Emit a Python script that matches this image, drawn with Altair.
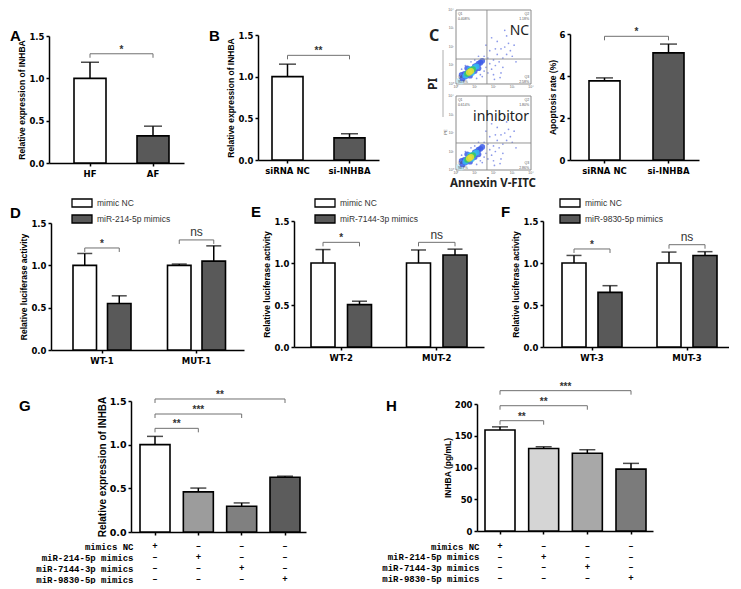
import altair as alt
import pandas as pd

# ------------------------------------------------------------------ data
A_CATS = ["HF", "AF"]
A_MEAN = [1.0, 0.32]
A_ERR = [0.19, 0.115]
A_BRACKETS = [("HF", "AF", 1.29, "*")]

B_CATS = ["siRNA NC", "si-INHBA"]
B_MEAN = [1.0, 0.265]
B_ERR = [0.15, 0.05]
B_BRACKETS = [("siRNA NC", "si-INHBA", 1.256, "**")]

C_CATS = ["siRNA NC", "si-INHBA"]
C_MEAN = [3.77, 5.1]
C_ERR = [0.14, 0.42]
C_BRACKETS = [("siRNA NC", "si-INHBA", 5.89, "*")]

FLOW_SAMPLES = ["NC", "inhibitor"]
FLOW_GATE_X = [1.65, 1.65]
FLOW_GATE_Y = [1.35, 1.46]
FLOW_Q1 = ["Q1\n0.408%", "Q1\n0.614%"]
FLOW_Q2 = ["Q2\n1.18%", "Q2\n1.80%"]
FLOW_Q3 = ["Q3\n2.58%", "Q3\n2.86%"]
FLOW_Q4 = ["Q4\n95.8%", "Q4\n94.7%"]
FLOW_DECADES = ["10\u2070", "10\u00b9", "10\u00b2", "10\u00b3", "10\u2074"]
FLOW_SPARSE_X = [1.3, 1.5, 1.6, 1.7, 1.8, 1.9, 2.0, 2.1, 2.2, 2.3, 2.4, 2.5, 2.6, 2.7,
                 2.8, 2.9, 3.0, 2.2, 1.8, 1.5, 1.4, 1.2, 1.0, 0.8, 0.5, 0.3, 2.0, 2.5,
                 3.1, 2.7, 1.6, 2.4, 3.2, 1.1, 0.2, 0.4, 1.9, 2.6, 2.1, 1.7, 2.35, 2.05]
FLOW_SPARSE_Y = [0.5, 0.7, 0.9, 0.6, 1.1, 0.8, 1.3, 1.0, 1.6, 1.2, 1.9, 1.4, 2.0, 1.6,
                 2.2, 1.8, 1.5, 2.3, 1.8, 1.5, 0.4, 1.5, 1.3, 1.2, 1.0, 0.8, 0.5, 0.9,
                 2.1, 2.6, 2.1, 0.6, 1.2, 0.3, 0.3, 0.15, 2.5, 2.9, 1.9, 1.4, 0.35, 0.25]
FLOW_CORE_X = [0.35, 0.5, 0.6, 0.7, 0.8, 0.9, 1.0, 1.1, 1.2, 1.3, 0.45, 0.75, 1.0, 0.6,
               1.2, 0.3, 1.4, 0.15, 0.28,
               0.5, 0.6, 0.7, 0.8, 0.9, 1.0, 1.1, 0.75, 0.85,
               0.6, 0.7, 0.8, 0.9, 0.75,
               0.7, 0.8]
FLOW_CORE_Y = [0.3, 0.4, 0.55, 0.6, 0.75, 0.8, 0.95, 1.0, 1.1, 1.15, 0.55, 0.45, 0.7, 0.85,
               0.85, 0.5, 1.25, 0.18, 0.12,
               0.45, 0.55, 0.65, 0.7, 0.8, 0.9, 0.95, 0.8, 0.6,
               0.55, 0.62, 0.72, 0.8, 0.7,
               0.62, 0.7]
FLOW_CORE_LEVEL = ["blue"] * 17 + ["pale"] * 2 + ["cyan"] * 9 + ["green"] * 5 + ["yellow"] * 2

D_GROUPS = ["WT-1", "MUT-1"]
D_SERIES = ["mimic NC", "miR-214-5p mimics"]
D_NC = [1.0, 1.0]
D_NC_ERR = [0.14, 0.015]
D_MIM = [0.55, 1.05]
D_MIM_ERR = [0.09, 0.18]
D_BRACKETS = [("WT-1", 1.205, "*"), ("MUT-1", 1.30, "ns")]

E_GROUPS = ["WT-2", "MUT-2"]
E_SERIES = ["mimic NC", "miR-7144-3p mimics"]
E_NC = [1.0, 1.0]
E_NC_ERR = [0.16, 0.155]
E_MIM = [0.505, 1.095]
E_MIM_ERR = [0.04, 0.07]
E_BRACKETS = [("WT-2", 1.246, "*"), ("MUT-2", 1.246, "ns")]

F_GROUPS = ["WT-3", "MUT-3"]
F_SERIES = ["mimic NC", "miR-9830-5p mimics"]
F_NC = [1.0, 1.0]
F_NC_ERR = [0.09, 0.13]
F_MIM = [0.65, 1.09]
F_MIM_ERR = [0.08, 0.045]
F_BRACKETS = [("WT-3", 1.167, "*"), ("MUT-3", 1.218, "ns")]

G_CATS = ["mimics NC", "miR-214-5p mimics", "miR-7144-3p mimics", "miR-9830-5p mimics"]
G_MEAN = [1.0, 0.46, 0.295, 0.627]
G_ERR = [0.095, 0.043, 0.038, 0.012]
G_BRACKETS = [("mimics NC", "miR-214-5p mimics", 1.187, "**"),
              ("mimics NC", "miR-7144-3p mimics", 1.351, "***"),
              ("mimics NC", "miR-9830-5p mimics", 1.523, "**")]

H_CATS = ["mimics NC", "miR-214-5p mimics", "miR-7144-3p mimics", "miR-9830-5p mimics"]
H_MEAN = [159, 130, 122.5, 97.5]
H_ERR = [5, 2.5, 5.5, 9]
H_BRACKETS = [("mimics NC", "miR-214-5p mimics", 173.7, "**"),
              ("mimics NC", "miR-7144-3p mimics", 197.3, "**"),
              ("mimics NC", "miR-9830-5p mimics", 221.0, "***")]

TABLE_ROWS = ["mimics NC", "miR-214-5p mimics", "miR-7144-3p mimics", "miR-9830-5p mimics"]

# ------------------------------------------------------------------ styles / layout
DARK = "#595959"
A_FILL = ["white", DARK]
G_FILL = ["white", "#9c9c9c", "#808080", "#5c5c5c"]
H_FILL = ["white", "#d5d5d5", "#a8a8a8", "#7b7b7b"]
BRACKET_COLOR = "#707070"
SANS = "Liberation Sans"
LABEL_FONT = "DejaVu Sans"
MONO = "Liberation Mono"

Y15 = dict(domain=[0, 1.5], values=[0, 0.5, 1.0, 1.5], format=".1f")
Y6 = dict(domain=[0, 6], values=[0, 2, 4, 6], format="d")
Y200 = dict(domain=[0, 200], values=[0, 50, 100, 150, 200], format="d")

GEO_A = dict(VW=209, VH=153, W=135, YT=26, lefts=[25, 88], bw=32, letter=("A", -39, 26))
GEO_B = dict(VW=198, VH=150, W=121, YT=25, lefts=[14, 76], bw=31, letter=("B", -49, 26))
GEO_C = dict(VW=129, VH=150, W=129, YT=24, lefts=[19, 83], bw=31, letter=None)
GEO_FLOW = dict(VW=114, VH=160, W=75, ymax=8.65, offsets=[4.65, 0.0])
GEO_D = dict(VW=243, VH=155, W=193, YT=28, nc=[22, 116], mim=[56, 151], bw=23.5, lx=20,
             letter=("D", -41, 18))
GEO_E = dict(VW=249, VH=152, W=190, YT=26, nc=[17, 113], mim=[54, 149], bw=24, lx=20,
             letter=("E", -43, 17))
GEO_F = dict(VW=186, VH=152, W=186, YT=26, nc=[19, 114], mim=[55, 150], bw=24, lx=16,
             letter=("F", -42, 17))
GEO_G = dict(VW=346, VH=133, W=175, YT=2, lefts=[9, 52, 96, 139], bw=30, table=[147, 180],
             letter=("G", -112, 7))
GEO_H = dict(VW=176, VH=132, W=176, YT=5, lefts=[8, 52, 95, 139], bw=30, table=[147, 179],
             letter=("H", -91, 7))
ROW_LEFT = [40, 42, 122]   # spacer widths: page x of first plot minus page margin

ONE = pd.DataFrame({"k": [0]})


def band_params(W, n, first_left, step, bw):
    pi = 1.0 - bw / step
    po = max(0.0, (W / step - n + pi) / 2.0)
    free = W - step * (n - pi)
    align = min(1.0, max(0.0, first_left / free)) if free > 0 else 0.5
    return dict(paddingInner=pi, paddingOuter=po, align=align)


def letter_layer(spec):
    txt, lx, ly = spec
    return alt.Chart(ONE).mark_text(text=txt, font=SANS, fontSize=15, fontWeight="bold",
                                    align="left", baseline="middle", color="black").encode(
        x=alt.value(lx), y=alt.value(ly))


def anchor_layer(y0, y1):
    return alt.Chart(ONE).mark_rule(strokeOpacity=0, strokeWidth=0.1, color="white").encode(
        x=alt.value(0), x2=alt.value(0), y=alt.value(y0), y2=alt.value(y1))


def spacer(w):
    return alt.Chart(ONE).mark_point(opacity=0, size=1).encode(
        x=alt.value(0), y=alt.value(0)).properties(width=w, height=1)


def star_text(label):
    if label == "ns":
        return dict(font=SANS, fontSize=12, fontWeight="normal", dy=-3.5)
    return dict(font=SANS, fontSize=10, fontWeight="bold", dy=-1)


def simple_panel(cats, means, errs, fills, brackets, geo, ycfg, ytitle, lsize=8.5, tsize=8.5,
                 xlabels=True, table=False, anchor=None):
    W, VW, VH, YT = geo["W"], geo["VW"], geo["VH"], geo["YT"]
    lefts, bw = geo["lefts"], geo["bw"]
    n = len(cats)
    step = (lefts[-1] - lefts[0]) / (n - 1)
    xs = alt.Scale(domain=cats, range=[0, W], **band_params(W, n, lefts[0], step, bw))
    ys = alt.Scale(domain=ycfg["domain"], range=[VH, YT], nice=False, zero=True)
    pxu = (VH - YT) / (ycfg["domain"][1] - ycfg["domain"][0])
    df = pd.DataFrame({"cat": cats, "mean": means,
                       "top": [m + e for m, e in zip(means, errs)], "fill": fills})
    xaxis = alt.Axis(title=None, labelAngle=0, labels=xlabels, labelFontSize=lsize,
                     labelPadding=3, ticks=True)
    yaxis = alt.Axis(values=ycfg["values"], format=ycfg["format"], title=ytitle,
                     labelFontSize=lsize, titleFontSize=tsize, titlePadding=2)
    x = alt.X("cat:N", scale=xs, axis=xaxis)
    Y = lambda f: alt.Y(f, scale=ys, axis=yaxis)
    bars = alt.Chart(df).mark_bar(stroke="black", strokeWidth=1.6).encode(
        x=x, y=Y("mean:Q"), fill=alt.Fill("fill:N", scale=None))
    err = alt.Chart(df).mark_rule(color="black", strokeWidth=1.5).encode(
        x=x, y=Y("mean:Q"), y2="top:Q")
    caps = alt.Chart(df).mark_tick(color="black", thickness=1.5, size=round(bw * 0.55)).encode(
        x=x, y=Y("top:Q"))
    rows = []
    for i, (c1, c2, yb, lab) in enumerate(brackets):
        drop = 4.0 / pxu
        rows += [dict(bid=i, o=0, cat=c1, y=yb - drop), dict(bid=i, o=1, cat=c1, y=yb),
                 dict(bid=i, o=2, cat=c2, y=yb), dict(bid=i, o=3, cat=c2, y=yb - drop)]
    br = alt.Chart(pd.DataFrame(rows)).mark_line(color=BRACKET_COLOR, strokeWidth=1).encode(
        x=x, y=Y("y:Q"), detail="bid:N", order="o:Q")
    layers = [bars, err, caps, br]
    for c1, c2, yb, lab in brackets:
        k = cats.index(c2) - cats.index(c1)
        sdf = pd.DataFrame({"cat": [c1], "y": [yb], "t": [lab]})
        layers.append(alt.Chart(sdf).mark_text(color="#333", baseline="alphabetic",
                                               dx=k * step / 2, **star_text(lab)).encode(
            x=x, y=Y("y:Q"), text="t:N"))
    if geo.get("letter"):
        layers.append(letter_layer(geo["letter"]))
    if anchor:
        layers.append(anchor_layer(*anchor))
    main = alt.layer(*layers)
    if table:
        tdf = pd.DataFrame([dict(rname=r, cat=c, sym="+" if r == c else "\u2013")
                            for r in TABLE_ROWS for c in cats])
        tab = alt.Chart(tdf).mark_text(font=MONO, fontWeight="bold", fontSize=9,
                                       color="black").encode(
            x=x,
            y=alt.Y("rname:N", scale=alt.Scale(domain=TABLE_ROWS, range=geo["table"], padding=0),
                    axis=alt.Axis(orient="left", title=None, domain=False, ticks=False,
                                  labelFont=MONO, labelFontWeight="bold", labelFontSize=9,
                                  labelPadding=-2, labelColor="black")),
            text="sym:N")
        main = alt.layer(main, tab).resolve_scale(y="independent")
    return main.properties(width=VW, height=VH)


def grouped_panel(groups, series, nc, nc_err, mim, mim_err, brackets, geo, ytitle,
                  anchor=None, lsize=8.5, tsize=8.5):
    W, VW, VH, YT = geo["W"], geo["VW"], geo["VH"], geo["YT"]
    ncl, mil, bw = geo["nc"], geo["mim"], geo["bw"]
    gs = ((ncl[1] - ncl[0]) + (mil[1] - mil[0])) / 2.0
    osz = ((mil[0] - ncl[0]) + (mil[1] - ncl[1])) / 2.0
    m = 5.0
    B = osz + bw + 2 * m
    xs = alt.Scale(domain=groups, range=[0, W], **band_params(W, 2, ncl[0] - m, gs, B))
    xo = alt.Scale(domain=series, **band_params(B, 2, m, osz, bw))
    ys = alt.Scale(domain=Y15["domain"], range=[VH, YT], nice=False, zero=True)
    pxu = (VH - YT) / 1.5
    rows = []
    for gi, g in enumerate(groups):
        rows.append(dict(grp=g, ser=series[0], mean=nc[gi], top=nc[gi] + nc_err[gi]))
        rows.append(dict(grp=g, ser=series[1], mean=mim[gi], top=mim[gi] + mim_err[gi]))
    df = pd.DataFrame(rows)
    xaxis = alt.Axis(title=None, labelAngle=0, labelFontSize=lsize, labelPadding=3)
    yaxis = alt.Axis(values=Y15["values"], format=Y15["format"], title=ytitle,
                     labelFontSize=lsize, titleFontSize=tsize, titlePadding=2)
    x = alt.X("grp:N", scale=xs, axis=xaxis)
    xoff = alt.XOffset("ser:N", scale=xo)
    Y = lambda f: alt.Y(f, scale=ys, axis=yaxis)
    legend = alt.Legend(orient="none", legendX=geo["lx"] + 4, legendY=1, title=None,
                        symbolType="M-1.667,-0.667H1.667V0.667H-1.667Z", symbolSize=144,
                        symbolStrokeColor="black", symbolStrokeWidth=1.3,
                        labelFont=SANS, labelFontSize=8.5, labelColor="#333",
                        labelOffset=8, rowPadding=2, padding=0)
    bars = alt.Chart(df).mark_bar(stroke="black", strokeWidth=1.6).encode(
        x=x, xOffset=xoff, y=Y("mean:Q"),
        fill=alt.Fill("ser:N", scale=alt.Scale(domain=series, range=["white", DARK]),
                      legend=legend))
    err = alt.Chart(df).mark_rule(color="black", strokeWidth=1.5).encode(
        x=x, xOffset=xoff, y=Y("mean:Q"), y2="top:Q")
    caps = alt.Chart(df).mark_tick(color="black", thickness=1.5, size=round(bw * 0.62)).encode(
        x=x, xOffset=xoff, y=Y("top:Q"))
    brows = []
    for i, (g, yb, lab) in enumerate(brackets):
        drop = 4.0 / pxu
        brows += [dict(bid=i, o=0, grp=g, ser=series[0], y=yb - drop),
                  dict(bid=i, o=1, grp=g, ser=series[0], y=yb),
                  dict(bid=i, o=2, grp=g, ser=series[1], y=yb),
                  dict(bid=i, o=3, grp=g, ser=series[1], y=yb - drop)]
    br = alt.Chart(pd.DataFrame(brows)).mark_line(color=BRACKET_COLOR, strokeWidth=1).encode(
        x=x, xOffset=xoff, y=Y("y:Q"), detail="bid:N", order="o:Q")
    layers = [bars, err, caps, br]
    for g, yb, lab in brackets:
        sdf = pd.DataFrame({"grp": [g], "y": [yb], "t": [lab]})
        layers.append(alt.Chart(sdf).mark_text(color="#333", baseline="alphabetic",
                                               **star_text(lab)).encode(
            x=x, y=Y("y:Q"), text="t:N"))
    layers.append(letter_layer(geo["letter"]))
    if anchor:
        layers.append(anchor_layer(*anchor))
    return alt.layer(*layers).properties(width=VW, height=VH)


def flow_panel():
    VW, VH, W, ymax = GEO_FLOW["VW"], GEO_FLOW["VH"], GEO_FLOW["W"], GEO_FLOW["ymax"]
    offs = GEO_FLOW["offsets"]
    xs = alt.Scale(domain=[0, 4], range=[0, W], nice=False, zero=False)
    ys = alt.Scale(domain=[0, ymax], range=[VH, 0], nice=False, zero=False)
    X = lambda f: alt.X(f, scale=xs, axis=None)
    Y = lambda f: alt.Y(f, scale=ys, axis=None)
    boxes = pd.DataFrame({"s": FLOW_SAMPLES, "x0": [0, 0], "x1": [4, 4], "y0": offs,
                          "y1": [o + 4 for o in offs], "gx": FLOW_GATE_X,
                          "gy": [o + g for o, g in zip(offs, FLOW_GATE_Y)],
                          "lx": [3.9, 3.9], "ly": [o + 2.85 for o in offs]})
    frame = alt.Chart(boxes).mark_rect(fillOpacity=0, stroke="#8a8a8a", strokeWidth=1).encode(
        x=X("x0:Q"), x2="x1:Q", y=Y("y0:Q"), y2="y1:Q")
    vg = alt.Chart(boxes).mark_rule(color="#8a8a8a", strokeWidth=0.9).encode(
        x=X("gx:Q"), y=Y("y0:Q"), y2="y1:Q")
    hg = alt.Chart(boxes).mark_rule(color="#8a8a8a", strokeWidth=0.9).encode(
        x=X("x0:Q"), x2="x1:Q", y=Y("gy:Q"))
    sp = pd.DataFrame([dict(x=x, y=y + o) for o in offs
                       for x, y in zip(FLOW_SPARSE_X, FLOW_SPARSE_Y)])
    sparse = alt.Chart(sp).mark_circle(size=3, color="#5b6fe0", opacity=0.7).encode(
        x=X("x:Q"), y=Y("y:Q"))
    lv_order = {"pale": 0, "blue": 1, "cyan": 2, "green": 3, "yellow": 4}
    cp = pd.DataFrame([dict(x=x, y=y + o, lvl=l, lo=lv_order[l]) for o in offs
                       for x, y, l in zip(FLOW_CORE_X, FLOW_CORE_Y, FLOW_CORE_LEVEL)])
    core = alt.Chart(cp).mark_circle(opacity=0.85).encode(
        x=X("x:Q"), y=Y("y:Q"),
        color=alt.Color("lvl:N", scale=alt.Scale(domain=["pale", "blue", "cyan", "green", "yellow"],
                                                 range=["#bfe8f5", "#3d5ce8", "#35b9ee",
                                                        "#38c85e", "#e8df3a"]), legend=None),
        size=alt.Size("lo:O", scale=alt.Scale(domain=[0, 1, 2, 3, 4], range=[30, 40, 22, 12, 5]),
                      legend=None),
        order=alt.Order("lo:Q"))
    names = alt.Chart(boxes).mark_text(font="Noto Sans", fontSize=14, align="right",
                                       baseline="middle", color="#222").encode(
        x=X("lx:Q"), y=Y("ly:Q"), text="s:N")
    qrows = []
    for i, o in enumerate(offs):
        qrows += [dict(x=0.1, y=o + 3.8, t=FLOW_Q1[i], a="l"),
                  dict(x=3.9, y=o + 3.8, t=FLOW_Q2[i], a="r"),
                  dict(x=3.9, y=o + 0.4, t=FLOW_Q3[i], a="r"),
                  dict(x=0.1, y=o + 0.4, t=FLOW_Q4[i], a="l")]
    qdf = pd.DataFrame(qrows)
    ql = alt.Chart(qdf[qdf.a == "l"]).mark_text(fontSize=3.5, align="left", color="#555",
                                               lineBreak="\n", font=SANS).encode(
        x=X("x:Q"), y=Y("y:Q"), text="t:N")
    qr = alt.Chart(qdf[qdf.a == "r"]).mark_text(fontSize=3.5, align="right", color="#555",
                                               lineBreak="\n", font=SANS).encode(
        x=X("x:Q"), y=Y("y:Q"), text="t:N")
    # tiny decade tick labels along the left and bottom edges of each plot
    drows = []
    for o in offs:
        for d, lab in enumerate(FLOW_DECADES):
            drows.append(dict(x=-0.12, y=o + d, t=lab, side="l"))
            drows.append(dict(x=d, y=o - 0.18, t=lab, side="b"))
    ddf = pd.DataFrame(drows)
    dl = alt.Chart(ddf[ddf.side == "l"]).mark_text(fontSize=3.5, align="right",
                                                  baseline="middle", color="#666",
                                                  font=SANS).encode(
        x=X("x:Q"), y=Y("y:Q"), text="t:N")
    db = alt.Chart(ddf[ddf.side == "b"]).mark_text(fontSize=3.5, align="center",
                                                  baseline="middle", color="#666",
                                                  font=SANS).encode(
        x=X("x:Q"), y=Y("y:Q"), text="t:N")
    pi = alt.Chart(ONE).mark_text(text="PI", font="Noto Sans", fontSize=12, fontWeight="bold",
                                  angle=270, color="#222").encode(x=alt.value(-23), y=alt.value(74))
    piline = alt.Chart(ONE).mark_rule(color="#999", strokeWidth=0.8).encode(
        x=alt.value(-13), y=alt.value(40), y2=alt.value(107))
    pe = alt.Chart(ONE).mark_text(text="PE", font=SANS, fontSize=4, angle=270,
                                  color="#666").encode(x=alt.value(-10), y=alt.value(122))
    ann = alt.Chart(ONE).mark_text(text="Annexin V-FITC", font="Noto Sans", fontSize=11.5,
                                   fontWeight="bold", color="#222").encode(
        x=alt.value(37), y=alt.value(174))
    cl = alt.Chart(ONE).mark_text(text="C", font="Noto Sans", fontSize=16, fontWeight="bold",
                                  align="left", baseline="middle", color="#222").encode(
        x=alt.value(-27), y=alt.value(26))
    return alt.layer(frame, sparse, core, vg, hg, names, ql, qr, dl, db, pi, piline, pe, ann,
                     cl).properties(width=VW, height=VH)


# ------------------------------------------------------------------ panels
pA = simple_panel(A_CATS, A_MEAN, A_ERR, A_FILL, A_BRACKETS, GEO_A, Y15,
                  "Relative expression of INHBA", anchor=(0, 183))
pB = simple_panel(B_CATS, B_MEAN, B_ERR, A_FILL, B_BRACKETS, GEO_B, Y15,
                  "Relative expression of  INHBA")
pC = simple_panel(C_CATS, C_MEAN, C_ERR, A_FILL, C_BRACKETS, GEO_C, Y6, "Apoptosis rate (%)")
pFlow = flow_panel()

pD = grouped_panel(D_GROUPS, D_SERIES, D_NC, D_NC_ERR, D_MIM, D_MIM_ERR, D_BRACKETS, GEO_D,
                   "Relative luciferase activity", anchor=(0, 185))
pE = grouped_panel(E_GROUPS, E_SERIES, E_NC, E_NC_ERR, E_MIM, E_MIM_ERR, E_BRACKETS, GEO_E,
                   "Relative luciferase activity")
pF = grouped_panel(F_GROUPS, F_SERIES, F_NC, F_NC_ERR, F_MIM, F_MIM_ERR, F_BRACKETS, GEO_F,
                   "Relative luciferase activity")

pG = simple_panel(G_CATS, G_MEAN, G_ERR, G_FILL, G_BRACKETS, GEO_G, Y15,
                  "Relative expression of  INHBA", lsize=9.5, tsize=10, xlabels=False,
                  table=True, anchor=(-18, 0))
pH = simple_panel(H_CATS, H_MEAN, H_ERR, H_FILL, H_BRACKETS, GEO_H, Y200, "INHBA (pg/mL)",
                  xlabels=False, table=True)

RES = dict(x="independent", y="independent", fill="independent", color="independent",
           xOffset="independent", size="independent")

row1 = alt.hconcat(spacer(ROW_LEFT[0]), pA, pB, pFlow, pC, spacing=0,
                   bounds="flush").resolve_scale(**RES)
row2 = alt.hconcat(spacer(ROW_LEFT[1]), pD, pE, pF, spacing=0,
                   bounds="flush").resolve_scale(**RES)
row3 = alt.hconcat(spacer(ROW_LEFT[2]), pG, pH, spacing=0,
                   bounds="flush").resolve_scale(**RES)

chart = alt.vconcat(row1, row2, row3, spacing=1).resolve_scale(**RES).properties(
    padding=0
).configure_view(stroke=None).configure_axis(
    domainColor="black", domainWidth=1.5, tickColor="black", tickWidth=1.5, tickSize=3,
    labelPadding=2, labelFont=LABEL_FONT, labelFontWeight="bold", labelColor="black",
    titleFont=SANS, titleFontWeight="bold", titleColor="black", grid=False, labelFlush=False
)

chart.save("out.html", embed_options={"renderer": "svg", "actions": False})
